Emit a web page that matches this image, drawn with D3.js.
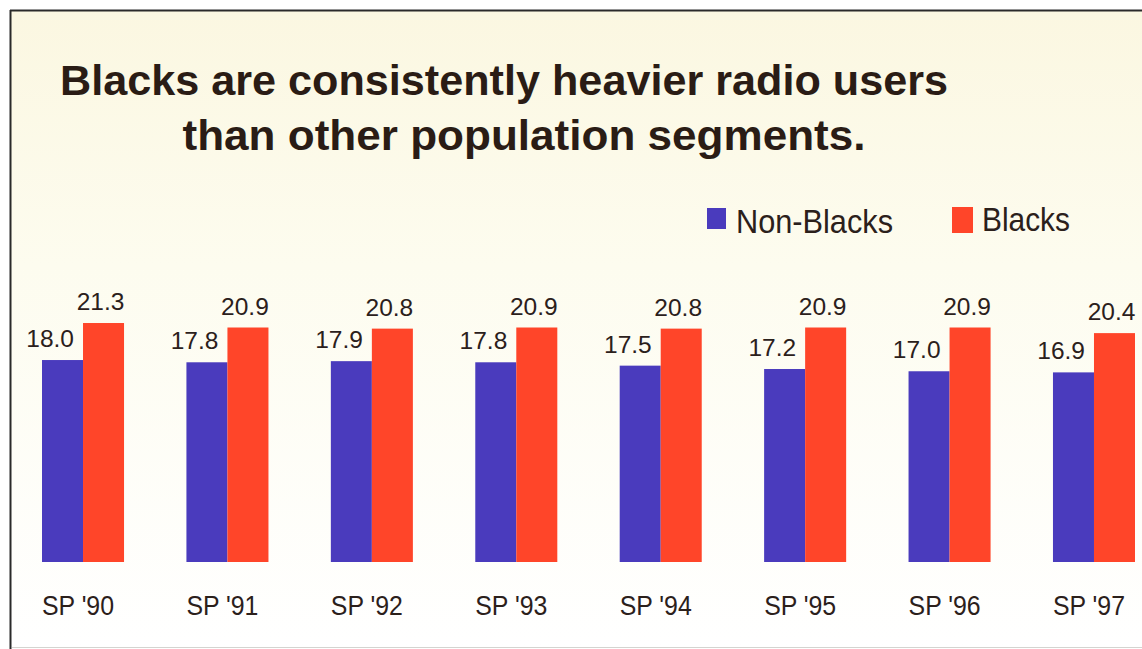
<!DOCTYPE html>
<html>
<head>
<meta charset="utf-8">
<script src="https://cdn.jsdelivr.net/npm/d3@7"></script>
<style>
  html, body { margin: 0; padding: 0; background: #fff; }
  svg { display: block; font-family: "Liberation Sans", Arial, Helvetica, sans-serif; }
</style>
</head>
<body>
<svg id="chart"></svg>
<script>
const width = 1142;
const height = 649;

// data
const seasons = ["SP '90", "SP '91", "SP '92", "SP '93", "SP '94", "SP '95", "SP '96", "SP '97"];
const series = ['Non-Blacks', 'Blacks'];
const nonBlacks = [18.0, 17.8, 17.9, 17.8, 17.5, 17.2, 17.0, 16.9];
const blacks = [21.3, 20.9, 20.8, 20.9, 20.8, 20.9, 20.9, 20.4];
const titleLines = ['Blacks are consistently heavier radio users', 'than other population segments.'];

const colors = ['#4a3bbd', '#ff4529'];
const textColor = '#2b201b';

const svg = d3.select('#chart')
    .attr('width', width)
    .attr('height', height);

// paper background, cream at the top fading to white
const grad = svg.append('defs').append('linearGradient')
    .attr('id', 'paper').attr('x1', 0).attr('y1', 0).attr('x2', 0).attr('y2', 1);
grad.append('stop').attr('offset', '0%').attr('stop-color', '#fbf7e1');
grad.append('stop').attr('offset', '40%').attr('stop-color', '#fdfcef');
grad.append('stop').attr('offset', '100%').attr('stop-color', '#ffffff');

svg.append('rect').attr('width', width).attr('height', height).attr('fill', '#fff');
svg.append('rect')
    .attr('x', 11).attr('y', 11)
    .attr('width', width - 11).attr('height', height - 14)
    .attr('fill', 'url(#paper)');

// frame
svg.append('line').attr('x1', 10).attr('x2', width).attr('y1', 10.5).attr('y2', 10.5)
    .attr('stroke', '#2a2a2a').attr('stroke-width', 2);
svg.append('line').attr('x1', 10.5).attr('x2', 10.5).attr('y1', 10).attr('y2', height)
    .attr('stroke', '#2a2a2a').attr('stroke-width', 2);
svg.append('line').attr('x1', 12).attr('x2', width).attr('y1', 647.5).attr('y2', 647.5)
    .attr('stroke', '#d4d4d0').attr('stroke-width', 1);

// title
const titleWidths = [888, 683];
const titleCenters = [504, 524];
svg.selectAll('.title')
    .data(titleLines)
    .enter().append('text')
    .attr('class', 'title')
    .attr('x', (d, i) => titleCenters[i])
    .attr('y', (d, i) => [95, 150][i])
    .attr('text-anchor', 'middle')
    .attr('textLength', (d, i) => titleWidths[i])
    .attr('lengthAdjust', 'spacingAndGlyphs')
    .attr('font-size', 43)
    .attr('font-weight', 'bold')
    .attr('fill', '#2a1c15')
    .text(d => d);

// scales
const x = d3.scaleBand()
    .domain(seasons)
    .range([42, 1135])
    .paddingInner(0.432)
    .paddingOuter(0);

const xInner = d3.scaleBand()
    .domain(series)
    .range([0, x.bandwidth()]);

const y = d3.scaleLinear()
    .domain([0, 25])
    .range([562, 562 - 280.5]);

const rows = seasons.map((s, i) => ({ season: s, values: [nonBlacks[i], blacks[i]] }));

const groups = svg.selectAll('.group')
    .data(rows)
    .enter().append('g')
    .attr('class', 'group')
    .attr('transform', d => `translate(${x(d.season)}, 0)`);

groups.selectAll('rect')
    .data(d => d.values.map((v, j) => ({ key: series[j], value: v, j: j })))
    .enter().append('rect')
    .attr('x', d => xInner(d.key))
    .attr('y', d => y(d.value))
    .attr('width', xInner.bandwidth())
    .attr('height', d => y(0) - y(d.value))
    .attr('fill', d => colors[d.j]);

// value labels
groups.selectAll('.val')
    .data(d => d.values.map((v, j) => ({ key: series[j], value: v, j: j })))
    .enter().append('text')
    .attr('class', 'val')
    .attr('x', d => d.j === 0 ? xInner(d.key) + 32 : xInner(d.key) + xInner.bandwidth() / 2 - 3)
    .attr('y', d => y(d.value) - 13)
    .attr('text-anchor', d => d.j === 0 ? 'end' : 'middle')
    .attr('font-size', 24.5)
    .attr('fill', textColor)
    .text(d => d.value.toFixed(1));

// category labels
groups.append('text')
    .attr('x', x.bandwidth() / 2 - 5)
    .attr('y', 615)
    .attr('text-anchor', 'middle')
    .attr('textLength', 72)
    .attr('lengthAdjust', 'spacingAndGlyphs')
    .attr('font-size', 27)
    .attr('fill', textColor)
    .text(d => d.season);

// legend
const legendItems = [
    { label: series[0], color: colors[0], box: [707, 208, 19, 21], tx: 736, tw: 157 },
    { label: series[1], color: colors[1], box: [952, 207, 21, 26], tx: 982, tw: 88 }
];
const legend = svg.selectAll('.legend')
    .data(legendItems)
    .enter().append('g')
    .attr('class', 'legend');
legend.append('rect')
    .attr('x', d => d.box[0]).attr('y', d => d.box[1])
    .attr('width', d => d.box[2]).attr('height', d => d.box[3])
    .attr('fill', d => d.color);
legend.append('text')
    .attr('x', d => d.tx)
    .attr('y', (d, i) => [233, 231][i])
    .attr('textLength', d => d.tw)
    .attr('lengthAdjust', 'spacingAndGlyphs')
    .attr('font-size', 33)
    .attr('fill', textColor)
    .text(d => d.label);
</script>
</body>
</html>
